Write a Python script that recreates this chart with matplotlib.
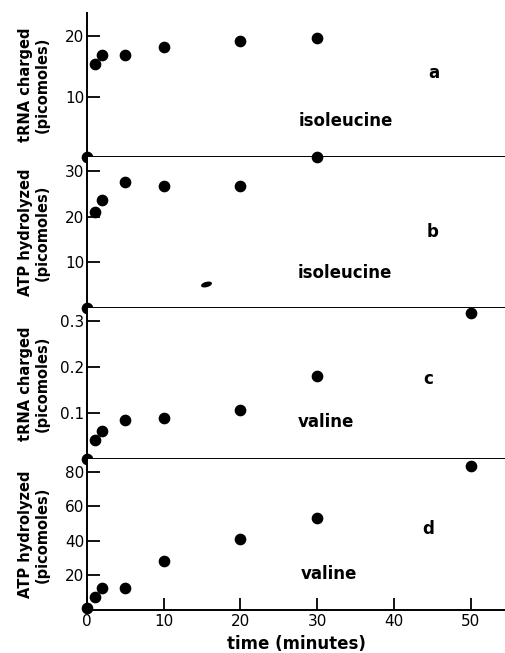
import matplotlib
matplotlib.use("Agg")
import matplotlib.pyplot as plt
from matplotlib.markers import MarkerStyle
from matplotlib.transforms import Affine2D

# Data (time in minutes)
time_ile_a = [0, 1, 2, 5, 10, 20, 30]
trna_ile = [0, 15.5, 17.0, 17.0, 18.3, 19.2, 19.7]

time_ile_b = [0, 1, 2, 5, 10, 20, 30]
atp_ile = [0, 21.0, 23.6, 27.6, 26.8, 26.8, 33.1]

time_val_c = [0, 1, 2, 5, 10, 20, 30, 50]
trna_val = [0, 0.041, 0.061, 0.085, 0.089, 0.107, 0.18, 0.317]

time_val_d = [0, 1, 2, 5, 10, 20, 30, 50]
atp_val = [1, 7.4, 13, 13, 28.6, 41, 53, 83.4]

# little smudge in panel b of the scanned original
smudge_x = [15.5]
smudge_y = [5.3]

panels = [
    # (x, y, ylabel, yticks, yticklabels, ylim, letter, amino, letter_xy, amino_xy)
    (time_ile_a, trna_ile, "tRNA charged\n(picomoles)", [10, 20], ["10", "20"],
     (0, 23.9), "a", "isoleucine", (45.2, 14), (33.7, 6)),
    (time_ile_b, atp_ile, "ATP hydrolyzed\n(picomoles)", [10, 20, 30], ["10", "20", "30"],
     (0, 33.1), "b", "isoleucine", (45.0, 16.6), (33.6, 7.6)),
    (time_val_c, trna_val, "tRNA charged\n(picomoles)", [0.1, 0.2, 0.3], ["0.1", "0.2", "0.3"],
     (0, 0.328), "c", "valine", (44.5, 0.174), (31.2, 0.08)),
    (time_val_d, atp_val, "ATP hydrolyzed\n(picomoles)", [20, 40, 60, 80], ["20", "40", "60", "80"],
     (0, 87.4), "d", "valine", (44.4, 46.9), (31.5, 21)),
]

W, H = 506, 653
fig = plt.figure(figsize=(W / 100, H / 100), dpi=100)
plt.rcParams['font.family'] = ['DejaVu Sans']

left = 87 / W
edges = [13, 157, 308, 459, 610]  # pixel rows of the panel borders

for i, p in enumerate(panels):
    xs, ys, ylab, yt, ytl, ylim, letter, amino, lxy, axy = p
    top, bot = edges[i], edges[i + 1]
    ax = fig.add_axes([left, 1 - bot / H, 1 - left, (bot - top) / H])
    ax.plot(xs, ys, 'o', color='black', markersize=7.4, clip_on=False, zorder=5)
    ax.set_xlim(0, 54.6)
    ax.set_ylim(*ylim)
    for s in ['top', 'right']:
        ax.spines[s].set_visible(False)
    for s in ['left', 'bottom']:
        ax.spines[s].set_linewidth(1.4)
    ax.set_yticks(yt)
    ax.set_yticklabels(ytl)
    ax.tick_params(axis='y', direction='in', length=9, width=1.3, pad=2, labelsize=11)
    ax.set_ylabel(ylab, fontsize=10.5, fontweight='bold', linespacing=1.15)
    ax.yaxis.set_label_coords(-0.088, 0.5)
    ax.text(lxy[0], lxy[1], letter, fontsize=12, fontweight='bold', ha='center', va='center')
    ax.text(axy[0], axy[1], amino, fontsize=12, fontweight='bold', ha='center', va='center')
    if i == 1:
        ax.plot(smudge_x, smudge_y, color='black', linestyle='none', markersize=7,
                marker=MarkerStyle('o', transform=Affine2D().scale(1, 0.4).rotate_deg(15)))
    if i < 3:
        ax.set_xticks([])
    else:
        ax.set_xticks([0, 10, 20, 30, 40, 50])
        ax.tick_params(axis='x', direction='in', length=9, width=1.3, pad=3, labelsize=11)
        ax.set_xlabel("time (minutes)", fontsize=12, fontweight='bold', labelpad=4)

fig.savefig("out.png", dpi=100)
